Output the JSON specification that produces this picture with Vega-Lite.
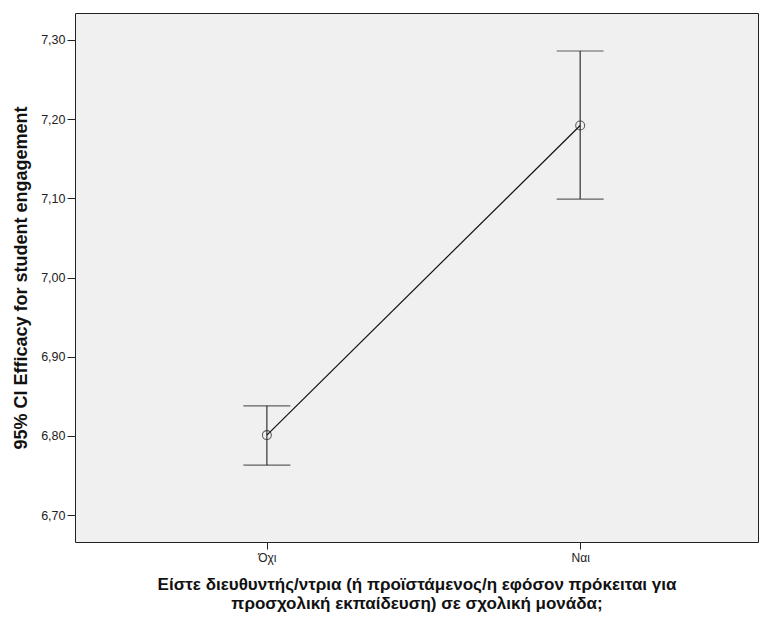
{
  "$schema": "https://vega.github.io/schema/vega-lite/v6.json",
  "autosize": {"type": "none"},
  "width": 683,
  "height": 529,
  "padding": {"left": 75, "top": 13, "right": 1, "bottom": 75},
  "background": "white",
  "config": {
    "font": "Liberation Sans",
    "view": {"fill": "#f0f0f0", "stroke": "#222", "strokeWidth": 1},
    "axis": {"grid": false, "domain": false, "tickColor": "#222", "labelColor": "#222", "titleColor": "#111"}
  },
  "data": {"values": [
    {"group": "Όχι", "mean": 6.801, "lower": 6.763, "upper": 6.838},
    {"group": "Ναι", "mean": 7.192, "lower": 7.099, "upper": 7.286}
  ]},
  "encoding": {
    "x": {
      "field": "group", "type": "nominal", "sort": ["Όχι", "Ναι"],
      "scale": {"type": "point", "padding": 0.59, "align": 0.519},
      "axis": {
        "title": ["Είστε διευθυντής/ντρια (ή προϊστάμενος/η εφόσον πρόκειται για", "προσχολική εκπαίδευση) σε σχολική μονάδα;"],
        "titleFontSize": 17, "titleFontWeight": "bold", "titleLineHeight": 19, "titlePadding": 13,
        "labelAngle": 0, "labelFontSize": 12, "tickSize": 7, "labelPadding": 3
      }
    }
  },
  "layer": [
    {
      "mark": {"type": "rule", "color": "#333", "strokeWidth": 1.2},
      "encoding": {
        "y": {"field": "lower", "type": "quantitative",
          "scale": {"domain": [6.666, 7.334], "nice": false, "zero": false},
          "axis": {
            "title": "95% CI Efficacy for student engagement",
            "values": [6.7, 6.8, 6.9, 7.0, 7.1, 7.2, 7.3],
            "labelExpr": "replace(format(datum.value, '.2f'), '.', ',')",
            "labelFontSize": 12.5, "tickSize": 8, "labelPadding": 2,
            "titleFontSize": 18, "titleFontWeight": "bold", "titlePadding": 10
          }
        },
        "y2": {"field": "upper"}
      }
    },
    {
      "mark": {"type": "tick", "color": "#222", "size": 47, "thickness": 1.2, "orient": "horizontal"},
      "encoding": {"y": {"field": "lower", "type": "quantitative"}}
    },
    {
      "mark": {"type": "tick", "color": "#222", "size": 47, "thickness": 1.2, "orient": "horizontal"},
      "encoding": {"y": {"field": "upper", "type": "quantitative"}}
    },
    {
      "mark": {"type": "line", "color": "#111", "strokeWidth": 1.2},
      "encoding": {"y": {"field": "mean", "type": "quantitative"}}
    },
    {
      "mark": {"type": "point", "shape": "circle", "filled": false, "color": "#222", "size": 80, "strokeWidth": 1.1},
      "encoding": {"y": {"field": "mean", "type": "quantitative"}}
    }
  ]
}
